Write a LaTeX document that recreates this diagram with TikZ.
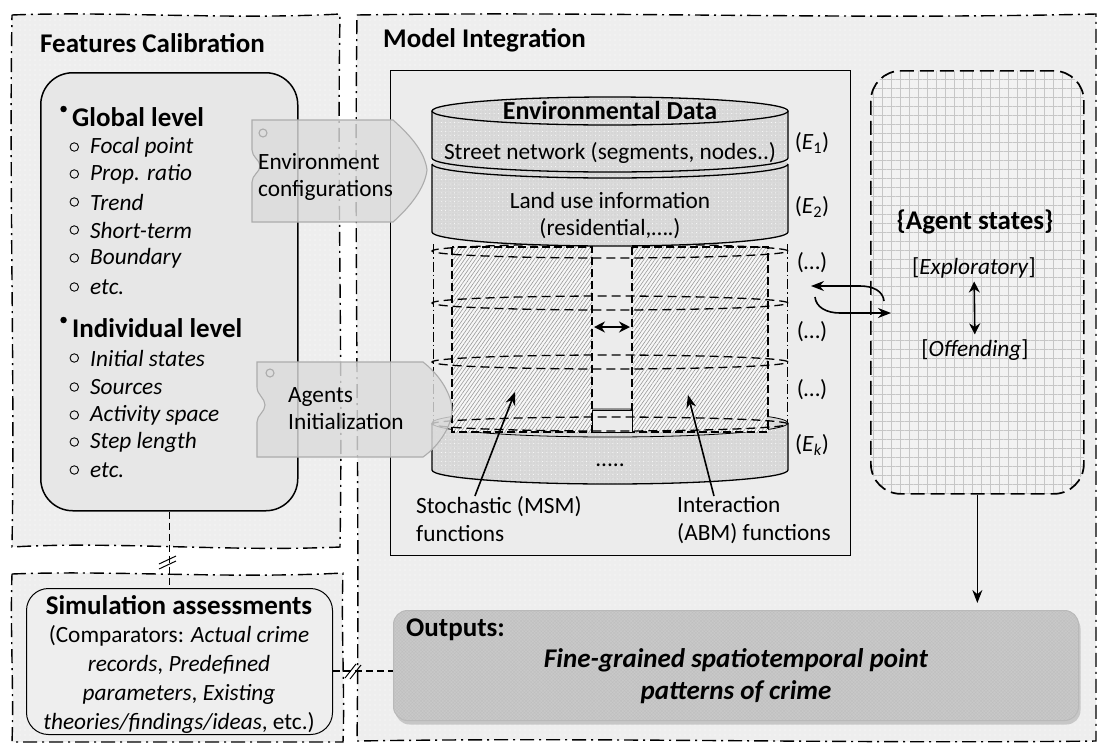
\documentclass[tikz,border=0pt]{standalone}
\usepackage{fontspec}
\setmainfont{Carlito}
\usepackage{xcolor}
\usepackage{tikz}
\usetikzlibrary{arrows.meta}
\usetikzlibrary{calc}
\usetikzlibrary{patterns.meta}
\usetikzlibrary{positioning}
\usetikzlibrary{shadows}

\definecolor{GroupFill}{gray}{0.935}
\definecolor{PanelFill}{gray}{0.905}
\definecolor{BoxFill}{gray}{0.925}
\definecolor{StoneFill}{gray}{0.855}
\definecolor{StoneGrain}{gray}{0.70}
\definecolor{TagFill}{gray}{0.86}
\definecolor{GridFill}{gray}{0.95}
\definecolor{OutFill}{gray}{0.79}

\begin{document}
\begin{tikzpicture}
[
	x = 1pt, y = -1pt,
	Group/.style	= {draw = black, line width = 1.4pt, dash pattern = on 14pt off 5pt on 2pt off 5pt, preaction = {fill = GroupFill}, preaction = {pattern = {Dots[distance = 5pt, radius = 0.7pt]}, pattern color = white}},
	Title/.style	= {font = \fontsize{27}{32}\selectfont\bfseries, anchor = west, inner sep = 0pt},
	Head/.style		= {font = \fontsize{27}{32}\selectfont\bfseries, inner sep = 0pt},
	Level/.style	= {font = \fontsize{27}{32}\selectfont\bfseries, anchor = west, inner sep = 0pt, label = {[Dot]left:{}}},
	Dot/.style		= {fill, circle, inner sep = 0pt, minimum size = 6.5pt, xshift = -5pt, yshift = 8pt},
	Item/.style		= {font = \fontsize{23.3}{27}\selectfont\itshape, anchor = west, inner sep = 0pt, label = {[Hollow]left:{}}},
	Hollow/.style	= {draw, circle, inner sep = 0pt, minimum size = 8.5pt, line width = 0.9pt, xshift = -11pt},
	Body/.style		= {font = \fontsize{23.3}{27}\selectfont, align = center, inner sep = 0pt},
	TagText/.style	= {font = \fontsize{23.3}{27}\selectfont, align = left, anchor = west, inner sep = 0pt},
	Panel/.style	= {draw, line width = 1.5pt, fill = PanelFill, rounded corners = 32pt, inner sep = 0pt, anchor = north west},
	ModelBox/.style	= {draw, line width = 1.4pt, fill = BoxFill, inner sep = 0pt, anchor = north west},
	StateBox/.style	= {draw = black, line width = 1.7pt, dash pattern = on 14pt off 6pt, rounded corners = 30pt, preaction = {fill = GridFill}, preaction = {pattern = {Hatch[distance = 9pt, line width = 0.3pt]}, pattern color = gray!45}, inner sep = 0pt, anchor = north west},
	OutBox/.style	= {draw = gray!55, line width = 1pt, rounded corners = 14pt, drop shadow = {opacity = 0.35, shadow xshift = 2pt, shadow yshift = -4pt}, preaction = {fill = OutFill}, preaction = {pattern = {Hatch[angle = 45, distance = 2.4pt, line width = 0.35pt]}, pattern color = gray!50}, inner sep = 0pt, anchor = north west},
	Tag/.style		= {draw = gray!65, line width = 1.1pt, fill = TagFill, fill opacity = 0.82},
	Stone/.style	= {fill = StoneFill, postaction = {pattern = {Dots[distance = 3pt, radius = 0.45pt]}, pattern color = StoneGrain}, postaction = {pattern = {Dots[distance = 4.4pt, radius = 0.5pt, xshift = 1.3pt, yshift = 2.1pt]}, pattern color = white}},
	Rim/.style		= {x radius = 178pt, y radius = 14pt},
	Edge/.style		= {draw, line width = 1.3pt},
	Hatched/.style	= {draw, line width = 1.3pt, dash pattern = on 8pt off 4pt, preaction = {fill = gray!6}, preaction = {pattern = {Lines[angle = 55, distance = 3pt, line width = 0.6pt]}, pattern color = gray!80}},
	Layer/.style	= {line width = 1.3pt, dash pattern = on 9pt off 5pt},
	Side/.style		= {line width = 0.9pt, dash pattern = on 10pt off 3pt on 1.5pt off 3pt},
	Arrow/.style	= {line width = 1.6pt, -{Stealth[length = 13pt, width = 10pt]}},
	Both/.style		= {line width = 1.6pt, {Stealth[length = 11pt, width = 11pt]}-{Stealth[length = 11pt, width = 11pt]}},
	Link/.style		= {line width = 1.1pt, dash pattern = on 7pt off 4pt},
	Cut/.style		= {line width = 1pt},
]

	\useasboundingbox (0,0) rectangle (1099,745);

	% dash-dot groups
	\path [Group] (12,15) .. controls (110,11) and (230,20) .. (340,14) .. controls (337,190) and (343,370) .. (340,547) .. controls (230,552) and (110,541) .. (12,547) .. controls (15,370) and (9,190) .. (12,15) -- cycle;
	\path [Group] (12,574) .. controls (110,570) and (230,579) .. (343,573) .. controls (341,630) and (345,690) .. (343,742) -- (12,742) .. controls (14,690) and (10,630) .. (12,574) -- cycle;
	\path [Group] (357,15) .. controls (600,11) and (850,20) .. (1096,14) -- (1096,741) .. controls (850,744) and (600,737) .. (357,741) .. controls (360,500) and (354,250) .. (357,15) -- cycle;

	\node (tCalib) [Title] at (40,43) {Features Calibration};
	\node (tModel) [Title] at (383,40) {Model Integration};

	% features calibration panel
	\node (Calib) [Panel, minimum width = 257pt, minimum height = 438pt] at (40,72) {};
	\node (glob) [Level] at (72,117) {Global level};
	\node (g1) [Item] at (90,147) {Focal point};
	\node (g2) [Item] at (90,174) {Prop. ratio};
	\node (g3) [Item] at (90,202) {Trend};
	\node (g4) [Item] at (90,230) {Short-term};
	\node (g5) [Item] at (90,258) {Boundary};
	\node (g6) [Item] at (90,287) {etc.};
	%
	\node (indi) [Level] at (72,328) {Individual level};
	\node (i1) [Item] at (90,358) {Initial states};
	\node (i2) [Item] at (90,387) {Sources};
	\node (i3) [Item] at (90,415) {Activity space};
	\node (i4) [Item] at (90,442) {Step length};
	\node (i5) [Item] at (90,470) {etc.};

	% simulation assessments panel
	\node (Assess) [Panel, line width = 1pt, rounded corners = 22pt, fill = gray!13, minimum width = 306pt, minimum height = 146pt] at (26,588) {};
	\node (aHead) [Head] at (179,605) {Simulation assessments};
	\node (aText) [Body, font = \fontsize{23.3}{29}\selectfont] at (179,679) {(Comparators: \textit{Actual crime}\\\textit{records}, \textit{Predefined}\\\textit{parameters}, \textit{Existing}\\\textit{theories/findings/ideas}, etc.)};

	% model integration box
	\node (Model) [ModelBox, minimum width = 460pt, minimum height = 485pt] at (390,70) {};

	% environmental data cylinder, drawn from the bottom layer up
	\path [Stone] (432,423) -- (432,470) arc [start angle = 180, end angle = 360, Rim] -- (788,423) arc [start angle = 0, end angle = 180, Rim] -- cycle;
	\draw [Edge] (432,423) -- (432,470) arc [start angle = 180, end angle = 360, Rim] -- (788,423);
	\draw [Edge, line width = 0.8pt] (610,423) ellipse [Rim];
	\node (more) [Body] at (610,465) {.....};
	%
	\draw [Hatched] (452,247) rectangle (592,432);
	\draw [Hatched] (632,247) rectangle (768,432);
	\draw [Edge, line width = 1pt, fill = StoneFill!55] (592,410) rectangle (632,432);
	\draw [Layer] (610,251) ellipse [x radius = 178pt, y radius = 7pt];
	\draw [Layer] (610,303) ellipse [x radius = 178pt, y radius = 7pt];
	\draw [Layer] (610,362) ellipse [x radius = 178pt, y radius = 7pt];
	\draw [Layer] (610,424) ellipse [x radius = 178pt, y radius = 7pt];
	\draw [Side] (433,244) -- (433,424);
	\draw [Side] (787,244) -- (787,424);
	%
	\path [Stone] (432,164) -- (432,232) arc [start angle = 180, end angle = 360, Rim] -- (788,164) arc [start angle = 0, end angle = 180, Rim] -- cycle;
	\draw [Edge] (432,164) arc [start angle = 180, end angle = 360, Rim] (432,164) -- (432,232) arc [start angle = 180, end angle = 360, Rim] -- (788,164);
	\node (landuse) [Body] at (610,216) {Land use information\\(residential,….)};
	%
	\path [Stone] (432,111) -- (432,158) arc [start angle = 180, end angle = 360, Rim] -- (788,111) arc [start angle = 0, end angle = 180, Rim] -- cycle;
	\draw [Edge] (432,111) -- (432,158) arc [start angle = 180, end angle = 360, Rim] -- (788,111);
	\draw [Edge] (610,111) ellipse [Rim];
	\node (envData) [Head, font = \fontsize{26}{30}\selectfont\bfseries] at (610,110) {Environmental Data};
	\node (street) [Body] at (610,153) {Street network (segments, nodes..)};

	% layer names
	\node (e1) [Body] at (812,143) {(\textit{E}\textsubscript{1})};
	\node (e2) [Body] at (812,207) {(\textit{E}\textsubscript{2})};
	\node (e3) [Body] at (812,263) {(…)};
	\node (e4) [Body] at (812,332) {(…)};
	\node (e5) [Body] at (812,390) {(…)};
	\node (ek) [Body] at (812,445) {(\textit{E}\textsubscript{\textit{k}})};

	% functions
	\coordinate (colL) at (594,327);
	\coordinate (colR) at (630,327);
	\draw [Both] (colL) -- (colR);
	%
	\node (msm) [Body, align = left, anchor = north west, font = \fontsize{23.3}{28}\selectfont] at (416,496) {Stochastic (MSM)\\functions};
	\node (abm) [Body, align = left, anchor = north west, font = \fontsize{23.3}{28}\selectfont] at (677,496) {Interaction\\(ABM) functions};
	\coordinate (msmTip) at (515,392);
	\coordinate (abmTip) at (688,395);
	\draw [Arrow] ([xshift = -24pt] msm.north) -- (msmTip);
	\draw [Arrow] ([xshift = -40pt] abm.north) -- (abmTip);

	% agent states
	\node (States) [StateBox, minimum width = 213pt, minimum height = 423pt] at (870,70) {};
	\node (stTitle) [Head] at (975,222) {\{Agent states\}};
	\node (expl) [Body] at (974,268) {[\textit{Exploratory}]};
	\node (offe) [Body] at (975,350) {[\textit{Offending}]};
	\draw [Both, shorten <= 3pt, shorten >= 5pt] (expl) -- (offe);
	%
	\coordinate (loopA) at (884,301);
	\coordinate (loopB) at (811,286);
	\coordinate (loopC) at (815,297);
	\coordinate (loopD) at (891,313);
	\draw [Arrow] (loopA) .. controls (883,291) and (873,286) .. (860,286) -- (loopB);
	\draw [Arrow] (loopC) .. controls (816,307) and (826,313) .. (840,313) -- (loopD);

	% outputs
	\node (Outputs) [OutBox, minimum width = 685pt, minimum height = 110pt] at (393,610) {};
	\node (oHead) [Title] at (406,630) {Outputs:};
	\node (oText) [Body, font = \fontsize{27}{32}\selectfont\bfseries\itshape] at (736,676) {Fine-grained spatiotemporal point\\patterns of crime};
	\draw [Arrow, shorten >= 7pt] (States.south) -- (States.south |- Outputs.north);

	% tags
	\draw [Tag] (252,120) -- (393,120) .. controls (410,135) and (425,152) .. (427,170) .. controls (425,188) and (410,207) .. (393,222) -- (252,222) -- (252,182) .. controls (252,175) and (260,172) .. (260,166) .. controls (260,160) and (252,157) .. (252,150) -- cycle;
	\draw [Tag, fill opacity = 0] (263,133) circle [radius = 4pt];
	\node (envTag) [TagText] at (258,177) {Environment\\configurations};
	%
	\draw [Tag] (257,362) -- (423,362) .. controls (440,375) and (452,395) .. (452,410) .. controls (452,425) and (440,445) .. (423,457) -- (257,457) -- (257,422) .. controls (257,415) and (265,412) .. (265,405) .. controls (265,398) and (257,395) .. (257,387) -- cycle;
	\draw [Tag, fill opacity = 0] (270,373) circle [radius = 4pt];
	\node (agtTag) [TagText] at (288,409) {Agents\\Initialization};

	% links between the groups
	\coordinate (cutV) at (168,561);
	\coordinate (cutH) at (352,671);
	\draw [Link] (Calib.south) -- (Calib.south |- Assess.north);
	\draw [Cut] ($(cutV)+(-9,3)$) -- ($(cutV)+(8,-5)$);
	\draw [Cut] ($(cutV)+(-9,8)$) -- ($(cutV)+(8,0)$);
	\draw [Link] (Assess.east |- cutH) -- (Outputs.west |- cutH);
	\draw [Cut] ($(cutH)+(-7,7)$) -- ($(cutH)+(4,-7)$);
	\draw [Cut] ($(cutH)+(-2,8)$) -- ($(cutH)+(9,-6)$);

\end{tikzpicture}
\end{document}
